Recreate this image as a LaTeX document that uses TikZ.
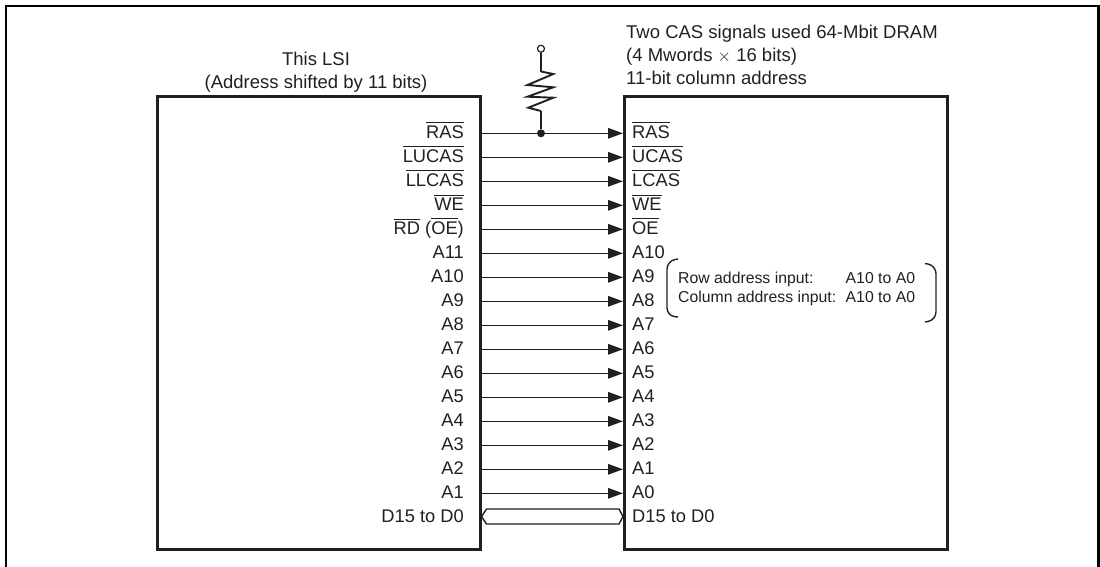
\documentclass[tikz,border=0pt]{standalone}
\usepackage{fontspec}
\setmainfont{Liberation Sans}
\usetikzlibrary{arrows.meta,calc}
\definecolor{ink}{HTML}{231F20}
\newcommand{\ovl}[1]{\leavevmode\vbox{\hrule height 1pt\kern 2.6pt\hbox{#1}}}
\tikzset{
  chip/.style={draw=ink,line width=3pt,minimum width=323pt,minimum height=452.5pt,inner sep=0,outer sep=0},
  pinl/.style={anchor=base east,inner sep=0,text=ink,font=\fontsize{18.3pt}{22pt}\selectfont},
  pinr/.style={anchor=base west,inner sep=0,text=ink,font=\fontsize{18.3pt}{22pt}\selectfont},
  title/.style={inner sep=0,text=ink,font=\fontsize{18.5pt}{22pt}\selectfont},
  small/.style={anchor=base west,inner sep=0,text=ink,font=\fontsize{15.8pt}{19pt}\selectfont},
  sig/.style={draw=ink,line width=1.4pt,-{Triangle[length=15pt,width=10.5pt]},shorten >=1pt},
  wire/.style={draw=ink,line width=1.4pt},
  brace/.style={draw=ink,line width=1.4pt,rounded corners=8pt},
}
\begin{document}
\begin{tikzpicture}[x=1pt,y=-1pt]
\useasboundingbox (0,0) rectangle (1100,566);
\draw[black,line width=2.2pt] (6,567) -- (6,6) -- (1098.5,6) -- (1098.5,567);
\node[chip] (L) at (319,323) {};
\node[chip] (R) at (785.5,323) {};
\foreach \i/\a/\b in {0/\ovl{RAS}/\ovl{RAS},1/\ovl{LUCAS}/\ovl{UCAS},2/\ovl{LLCAS}/\ovl{LCAS},3/\ovl{WE}/\ovl{WE},4/{\ovl{RD} (\ovl{OE})}/\ovl{OE},5/A11/A10,6/A10/A9,7/A9/A8,8/A8/A7,9/A7/A6,10/A6/A5,11/A5/A4,12/A4/A3,13/A3/A2,14/A2/A1,15/A1/A0}{
  \pgfmathsetmacro{\yy}{133.3+24*\i}
  \coordinate (y\i) at (0,\yy);
  \node[pinl] (lt\i) at (464,\yy+5.4) {\a};
  \node[pinr] (rt\i) at (632,\yy+5.4) {\b};
  \draw[sig] (L.east |- y\i) -- (R.west |- y\i);
}
\node[pinl] (ltD) at (464,522.8) {D15 to D0};
\node[pinr] (rtD) at (632,522.8) {D15 to D0};
\coordinate (yD) at (0,516.5);
\coordinate (bl) at ([xshift=1pt]L.east |- yD);
\coordinate (br) at ([xshift=-1pt]R.west |- yD);
\draw[wire,line join=miter] (bl) -- ($(bl)+(5,-7.5)$) -- ($(br)+(-4,-7.5)$) -- (br) -- ($(br)+(-4,7.5)$) -- ($(bl)+(5,7.5)$) -- cycle;
\node[title,anchor=base] (t1) at (316,65) {This LSI};
\node[title,anchor=base] (t2) at (316,88.3) {(Address shifted by 11 bits)};
\node[title,anchor=base west] (t3) at (626,38.3) {Two CAS signals used 64-Mbit DRAM};
\node[title,anchor=base west] (t4) at (626,61.7) {(4 Mwords \(\times\) 16 bits)};
\node[title,anchor=base west] (t5) at (626,84.5) {11-bit column address};
\node[small] (s1) at (678,283) {Row address input:};
\node[small] (s2) at (845.5,283) {A10 to A0};
\node[small] (s3) at (678,302) {Column address input:};
\node[small] (s4) at (845.5,302) {A10 to A0};
\draw[brace] (678,259) -- (667,261) -- (667,316) -- (678,317);
\draw[brace] (925,263.5) -- (936,265.5) -- (936,320) -- (925,322);
\node[circle,draw=ink,fill=white,line width=1.2pt,minimum size=7pt,inner sep=0] (vcc) at (541,48.7) {};
\node[circle,fill=ink,minimum size=8pt,inner sep=0] (dot) at (541,133.3) {};
\coordinate (rtop) at (541,71.5);
\coordinate (rbot) at (541,111);
\draw[wire] (vcc) -- (rtop);
\draw[wire] (rbot) -- (dot);
\draw[draw=ink,line width=1.9pt,line join=miter] (rtop) -- (553.3,74) -- (527.5,85) -- (553.3,87.3) -- (527.5,96.7) -- (553.3,97.7) -- (528.3,107.7) -- (rbot);
\end{tikzpicture}
\end{document}
